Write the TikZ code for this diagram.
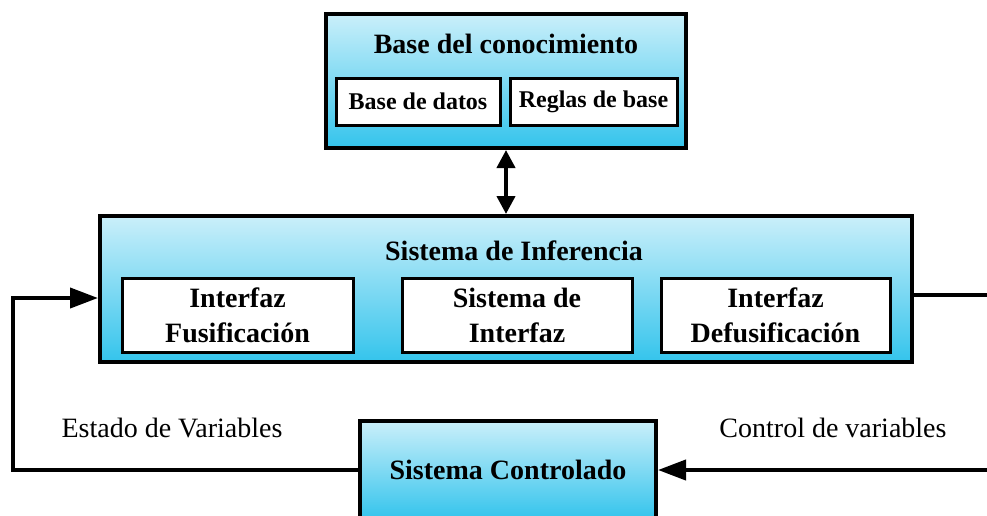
\documentclass[tikz,border=0pt]{standalone}
\usepackage{fontspec}
\setmainfont{Liberation Serif}
\usepackage{tikz}
\usetikzlibrary{arrows.meta, calc, positioning}
\definecolor{Fuzzy-top}{RGB}{202,239,250}
\definecolor{Fuzzy-bottom}{RGB}{52,196,236}
\tikzset{%
    edge/.style={%
        line width=2pt,
        -{Triangle[length=14pt,width=10pt]},
    },
    dedge/.style={%
        line width=2pt,
        {Triangle[length=9pt,width=9pt]}-{Triangle[length=9pt,width=9pt]},
    },
    block/.style={%
        rectangle,
        draw=black, line width=2pt,
        top color=Fuzzy-top,
        bottom color=Fuzzy-bottom,
        inner sep=0pt,
    },
    subblock/.style={%
        rectangle,
        draw=black, line width=1.5pt,
        fill=white,
        font=\fontsize{14}{17.5}\selectfont\bfseries,
        align=center,
        inner sep=0pt,
    },
    smallblock/.style={%
        subblock,
        font=\fontsize{12}{14}\selectfont\bfseries,
    },
    title/.style={%
        font=\fontsize{14}{17}\selectfont\bfseries,
        inner sep=0pt,
    },
    signal/.style={%
        font=\fontsize{14}{17}\selectfont,
        inner sep=0pt,
    },
}

\begin{document}
\begin{tikzpicture}[x=0.5pt, y=-0.5pt]
  \useasboundingbox (0,0) rectangle (987,515);
  \clip (0,0) rectangle (987,515);

  % knowledge base
  \node [block, minimum width=180pt, minimum height=67pt] at (506,81) (kb) {};
  \node [title] at (506,44) (kb_title) {Base del conocimiento};
  \node [smallblock, minimum width=82pt, minimum height=23.5pt] at (418,101.5) (kb_datos) {Base de datos};
  \node [smallblock, minimum width=83.5pt, minimum height=23.5pt] at (593.5,101.5) (kb_reglas) {Reglas de base};

  % inference system
  \node [block, minimum width=406pt, minimum height=73pt] at (506,289) (inf) {};
  \node [title] at (514,251) (inf_title) {Sistema de Inferencia};
  \node [subblock, minimum width=115.5pt, minimum height=37pt] at (237.5,315) (inf_fus) {Interfaz\\Fusificación};
  \node [subblock, minimum width=115pt, minimum height=37pt] at (517,315) (inf_sis) {Sistema de\\Interfaz};
  \node [subblock, minimum width=114.5pt, minimum height=37pt] at (775.5,315) (inf_defus) {Interfaz\\Defusificación};

  % plant
  \node [block, minimum width=148pt, minimum height=49pt, title] at (508,470) (plant) {Sistema Controlado};

  \node [signal] at (172,428) (lbl_estado) {Estado de Variables};
  \node [signal] at (833,428) (lbl_control) {Control de variables};

  \coordinate (loop_l) at (13,298);
  \coordinate (loop_r) at (1000,295);

  \draw[dedge] (kb.south) -- (inf.north);
  \draw[edge] (plant.west) -| (loop_l) -- (loop_l -| inf.west);
  \draw[edge] (inf.east |- loop_r) -- (loop_r) |- (plant.east);
\end{tikzpicture}
\end{document}
